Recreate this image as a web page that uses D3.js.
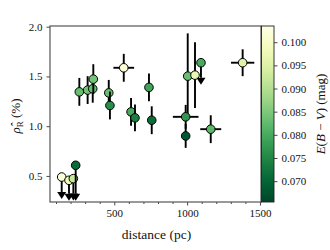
<!DOCTYPE html>
<html>
<head>
<meta charset="utf-8">
<script src="https://cdn.jsdelivr.net/npm/d3@7"></script>
<style>
  body { margin: 0; background: #fff; }
  svg text { font-family: "Liberation Serif", "DejaVu Serif", serif; fill: #111; }
</style>
</head>
<body>
<svg id="chart" width="330" height="250"></svg>
<script>
// values
let distance = [260, 317, 352, 356, 462, 470, 565, 615, 642, 738, 757, 1004, 1054, 1095, 1381, 990, 990, 1162, 139, 189, 219, 235];
let distErr  = [0, 0, 0, 0, 0, 0, 71, 0, 0, 0, 0, 0, 0, 0, 80, 88, 0, 72, 0, 0, 0, 0];
let rho      = [1.345, 1.363, 1.376, 1.473, 1.335, 1.208, 1.587, 1.144, 1.084, 1.39, 1.06, 1.503, 1.513, 1.638, 1.638, 1.094, 0.902, 0.970, 0.489, 0.456, 0.473, 0.607];
let rhoErr   = [0.14, 0.14, 0.14, 0.15, 0.13, 0.14, 0.14, 0.14, 0.135, 0.14, 0.14, 0.43, 0.33, 0.15, 0.135, 0.12, 0.12, 0.14, 0.15, 0.134, 0.15, 0.285];
let upperLim = [false, false, false, false, false, false, false, false, false, false, false, false, false, true, false, false, false, false, true, true, true, true];
let ebv      = [0.083, 0.084, 0.083, 0.084, 0.083, 0.076, 0.102, 0.080, 0.074, 0.079, 0.071, 0.083, 0.097, 0.080, 0.095, 0.077, 0.068, 0.082, 0.102, 0.098, 0.092, 0.071];

let xTicks = [500, 1000, 1500];
let xMinorTicks = d3.range(100, 1600, 100);
let yTicks = [0.5, 1.0, 1.5, 2.0];
let cbTicks = [0.070, 0.075, 0.080, 0.085, 0.090, 0.095, 0.100];

let svg = d3.select("svg#chart");
let padding = { "top": 26, "bottom": 48, "left": 50, "right": 69 };
let width = 330 - padding.left - padding.right;
let height = 250 - padding.top - padding.bottom;

let xScale = d3.scaleLinear().domain([58.7, 1507]).range([0, width]);
let yScale = d3.scaleLinear().domain([0.238, 2.007]).range([height, 0]);
let cScale = d3.scaleLinear().domain([0.0655, 0.1035]).range([height, 0]);
let colour = v => d3.interpolateYlGn(1 - (v - 0.0655) / (0.1035 - 0.0655));

let g = svg.append("g")
    .attr("transform", "translate(" + padding.left + "," + padding.top + ")");

// axes
let xAxis = d3.axisBottom(xScale).tickValues(xTicks).tickFormat(d3.format("d")).tickSize(3.5).tickPadding(4);
let xMinor = d3.axisBottom(xScale).tickValues(xMinorTicks.filter(d => xTicks.indexOf(d) < 0)).tickFormat("").tickSize(2);
let yAxis = d3.axisLeft(yScale).tickValues(yTicks).tickFormat(d3.format(".1f")).tickSize(3.5).tickPadding(4);

g.append("g").attr("transform", "translate(0," + height + ")").call(xAxis)
    .style("font-size", "11px");
g.append("g").attr("transform", "translate(0," + height + ")").call(xMinor);
g.append("g").call(yAxis).style("font-size", "11px");
g.selectAll(".tick line").attr("stroke", "#333").attr("stroke-width", 0.9);
g.selectAll(".tick text").style("font-family", "Liberation Serif, serif").attr("fill", "#111");
g.selectAll("path.domain").remove();

// frame
g.append("rect")
    .attr("x", 0).attr("y", 0).attr("width", width).attr("height", height)
    .attr("fill", "none").attr("stroke", "#555").attr("stroke-width", 1.2);

// points
let idx = d3.range(distance.length);
let pts = g.append("g");
idx.forEach(function (i) {
    let cx = xScale(distance[i]);
    let cy = yScale(rho[i]);
    if (distErr[i] > 0) {
        pts.append("line")
            .attr("x1", xScale(distance[i] - distErr[i])).attr("x2", xScale(distance[i] + distErr[i]))
            .attr("y1", cy).attr("y2", cy)
            .attr("stroke", "#000").attr("stroke-width", 1.9);
    }
    if (upperLim[i]) {
        let yEnd = yScale(rho[i] - rhoErr[i]);
        pts.append("line")
            .attr("x1", cx).attr("x2", cx).attr("y1", cy).attr("y2", yEnd)
            .attr("stroke", "#000").attr("stroke-width", 1.9);
        pts.append("path")
            .attr("d", "M" + (cx - 4.5) + "," + yEnd + "L" + (cx + 4.5) + "," + yEnd + "L" + cx + "," + (yEnd + 7) + "Z")
            .attr("fill", "#000");
    } else {
        pts.append("line")
            .attr("x1", cx).attr("x2", cx)
            .attr("y1", yScale(rho[i] + rhoErr[i])).attr("y2", yScale(rho[i] - rhoErr[i]))
            .attr("stroke", "#000").attr("stroke-width", 1.9);
    }
    pts.append("circle")
        .attr("cx", cx).attr("cy", cy).attr("r", 4.3)
        .attr("fill", colour(ebv[i]))
        .attr("stroke", "#000").attr("stroke-width", 1);
});

// colorbar
let cbX = width + 0.5;
let cbW = 12.5;
let defs = svg.append("defs");
let grad = defs.append("linearGradient").attr("id", "cbGrad")
    .attr("x1", "0").attr("y1", "1").attr("x2", "0").attr("y2", "0");
d3.range(0, 1.0001, 0.05).forEach(function (t) {
    grad.append("stop").attr("offset", t).attr("stop-color", d3.interpolateYlGn(1 - t));
});
let cb = g.append("g").attr("transform", "translate(" + cbX + ",0)");
cb.append("rect").attr("width", cbW).attr("height", height)
    .attr("fill", "url(#cbGrad)").attr("stroke", "#222").attr("stroke-width", 0.9);
let cAxis = d3.axisRight(cScale).tickValues(cbTicks).tickFormat(d3.format(".3f")).tickSize(3.5).tickPadding(4);
cb.append("g").attr("transform", "translate(" + cbW + ",0)").call(cAxis)
    .style("font-size", "11px")
    .call(a => a.select("path.domain").remove())
    .call(a => a.selectAll(".tick line").attr("stroke", "#333").attr("stroke-width", 0.9))
    .call(a => a.selectAll(".tick text").style("font-family", "Liberation Serif, serif").attr("fill", "#111"));

// labels
svg.append("text")
    .attr("x", padding.left + width / 2 + 1).attr("y", 239)
    .style("text-anchor", "middle").style("font-size", "13.5px")
    .text("distance (pc)");

let yl = svg.append("text")
    .attr("transform", "translate(20," + (padding.top + height / 2 + 2) + ")rotate(-90)")
    .style("text-anchor", "middle").style("font-size", "13px");
yl.append("tspan").style("font-style", "italic").text("\u03C1\u0302");
yl.append("tspan").attr("dy", 2.5).style("font-size", "9px").text("R");
yl.append("tspan").attr("dy", -2.5).text(" (%)");

let cl = svg.append("text")
    .attr("transform", "translate(325," + (padding.top + height / 2) + ")rotate(-90)")
    .style("text-anchor", "middle").style("font-size", "13px");
cl.append("tspan").style("font-style", "italic").text("E");
cl.append("tspan").text("(");
cl.append("tspan").style("font-style", "italic").text("B");
cl.append("tspan").text(" \u2212 ");
cl.append("tspan").style("font-style", "italic").text("V");
cl.append("tspan").text(") (mag)");
</script>
</body>
</html>
